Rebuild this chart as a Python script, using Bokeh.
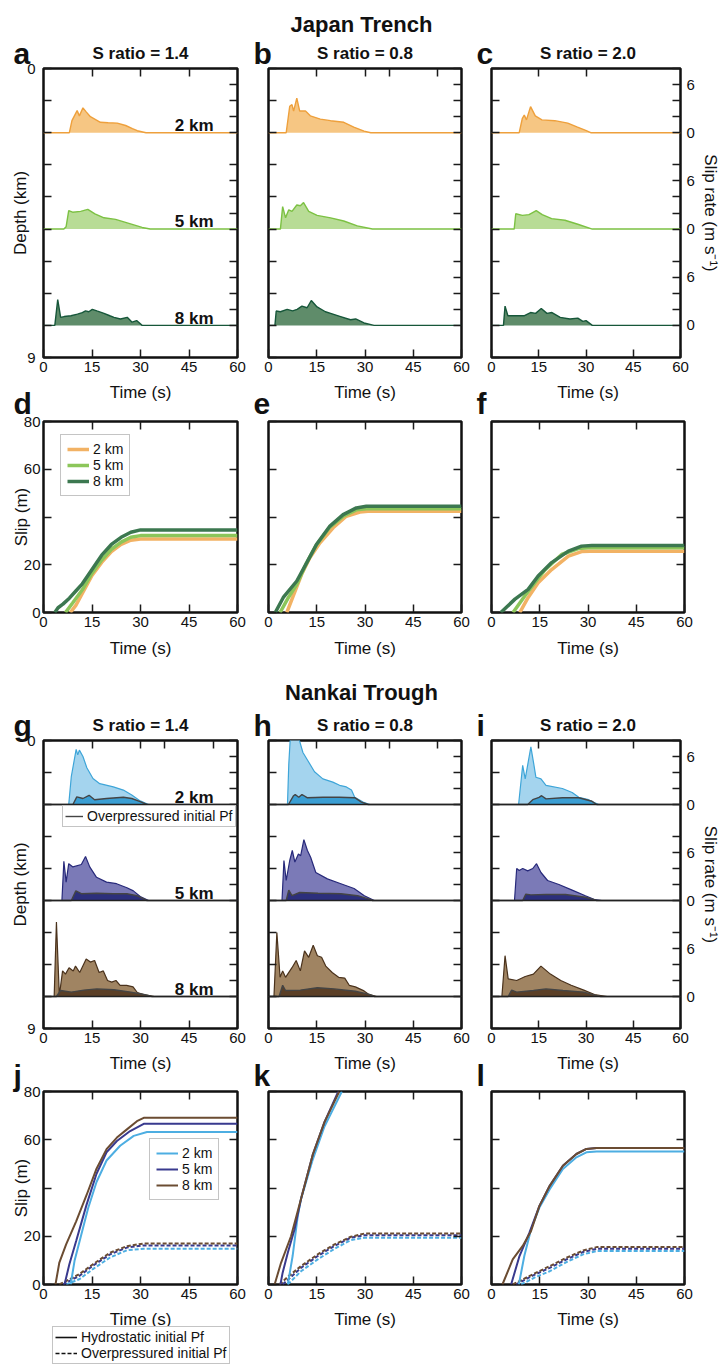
import numpy as np
from bokeh.plotting import figure
from bokeh.models import Range1d, FixedTicker, LinearAxis, Legend, LegendItem, Span
from bokeh.layouts import column, row
from bokeh.core.properties import value
from bokeh.embed import file_html
from bokeh.resources import INLINE

FONT = "Liberation Sans"

# ---------------------------------------------------------------- data
TIME_TICKS = [0, 15, 30, 45, 60]
DEPTHS = [2, 5, 8]
DEPTH_LABELS = ["2 km", "5 km", "8 km"]
RATE_TICKS = [0, 2, 4, 6, 8]
RATE_LABELS = {0: "0", 6: "6"}
SLIP_TICKS = [0, 20, 40, 60, 80]
SLIP_LABELS = {0: "0", 20: "20", 60: "60", 80: "80"}
S_RATIOS = ["S ratio = 1.4", "S ratio = 0.8", "S ratio = 2.0"]
REGIONS = ["Japan Trench", "Nankai Trough"]
PF_LABELS = ["Hydrostatic initial Pf", "Overpressured initial Pf"]

# Japan Trench slip rate (m/s) vs time (s)
a2_t = [0, 8.0, 8.8, 10.4, 11.1, 12.2, 13.2, 14.5, 17.6, 20.0, 22.8, 25.4, 27.5, 29.0, 31.7, 60]
a2_v = [0, 0, 1.5, 2.75, 2.1, 3.1, 2.6, 2.0, 1.3, 1.25, 1.2, 0.9, 0.5, 0.25, 0, 0]
a5_t = [0, 6.3, 7.0, 7.8, 9.0, 11.5, 13.7, 15.9, 18.7, 22.3, 26.4, 30.5, 33.0, 60]
a5_v = [0, 0, 0.3, 2.3, 2.1, 2.2, 2.45, 1.9, 1.4, 1.2, 0.7, 0.2, 0, 0]
a8_t = [0, 3.5, 4.4, 5.3, 6.4, 8.5, 10.5, 12.0, 13.0, 14.0, 15.1, 16.5, 18.7, 20.5, 21.8, 23.8, 25.9, 27.4, 28.8, 30.5, 60]
a8_v = [0, 0, 3.2, 1.0, 1.1, 1.2, 1.4, 1.6, 1.8, 1.7, 2.0, 1.8, 1.5, 1.2, 1.0, 0.8, 1.0, 0.4, 0.6, 0, 0]

b2_t = [0, 5.5, 6.6, 7.3, 7.8, 8.8, 9.7, 11.5, 13.0, 16.1, 19.3, 23.4, 26.5, 29.7, 31.8, 60]
b2_v = [0, 0, 3.3, 3.5, 2.7, 4.3, 2.7, 2.7, 2.1, 1.7, 1.5, 1.3, 0.7, 0.2, 0, 0]
b5_t = [0, 3.7, 4.4, 5.3, 6.3, 7.3, 8.8, 9.9, 10.9, 12.5, 15.1, 19.3, 23.4, 27.6, 32.3, 60]
b5_v = [0, 0, 2.8, 1.4, 2.4, 2.2, 3.0, 2.9, 3.3, 2.2, 1.7, 1.4, 1.0, 0.4, 0, 0]
b8_t = [0, 2.0, 2.4, 3.7, 5.8, 7.5, 8.9, 10.4, 12.0, 13.3, 15.1, 17.7, 19.3, 22.4, 25.5, 27.1, 29.7, 32.8, 60]
b8_v = [0, 0, 1.8, 1.7, 2.0, 1.8, 2.0, 2.4, 2.2, 3.1, 2.3, 1.7, 1.5, 1.1, 0.7, 0.8, 0.3, 0, 0]

c2_t = [0, 8.8, 9.8, 10.4, 11.1, 12.4, 13.9, 16.0, 20.1, 24.2, 27.3, 29.9, 31.5, 60]
c2_v = [0, 0, 1.8, 2.2, 1.6, 3.25, 2.1, 1.6, 1.5, 1.2, 0.7, 0.3, 0, 0]
c5_t = [0, 7.2, 7.7, 9.8, 11.9, 14.2, 16.1, 19.1, 23.3, 27.4, 32.0, 60]
c5_v = [0, 0, 1.9, 1.7, 1.8, 2.3, 1.8, 1.3, 1.1, 0.6, 0, 0]
c8_t = [0, 3.8, 4.3, 5.2, 7.7, 10.3, 12.4, 14.0, 15.8, 17.6, 19.2, 21.8, 24.9, 27.4, 29.0, 30.0, 32.0, 60]
c8_v = [0, 0, 2.4, 1.2, 1.2, 1.2, 1.6, 1.5, 2.1, 1.5, 1.6, 1.0, 0.8, 0.9, 0.5, 0.6, 0, 0]

# Nankai Trough slip rate, hydrostatic and overpressured (o) initial Pf
g2_t = [0, 7.8, 8.6, 10.1, 10.6, 11.1, 12.2, 13.4, 15.3, 17.4, 21.6, 24.7, 27.3, 29.9, 32.5, 60]
g2_v = [0, 0, 3.5, 6.9, 6.2, 6.8, 6.0, 4.6, 3.25, 2.6, 2.2, 1.8, 1.2, 0.45, 0, 0]
g2o_t = [0, 9.1, 10.3, 12.2, 14.1, 15.8, 19.5, 24.7, 27.3, 29.9, 32.0, 60]
g2o_v = [0, 0, 0.95, 0.75, 1.15, 0.6, 0.75, 0.9, 0.75, 0.35, 0, 0]
g5_t = [0, 5.7, 6.3, 7.0, 7.8, 9.1, 11.7, 13.0, 14.3, 16.4, 19.5, 22.6, 25.8, 27.8, 29.9, 32.5, 60]
g5_v = [0, 0, 4.9, 2.3, 4.6, 4.2, 4.5, 5.5, 4.2, 2.9, 2.3, 2.1, 1.6, 1.2, 0.5, 0, 0]
g5o_t = [0, 8.6, 10.0, 11.7, 16.4, 21.6, 25.8, 28.9, 31.5, 32.0, 60]
g5o_v = [0, 0, 1.2, 0.85, 0.9, 0.85, 0.85, 0.6, 0.1, 0, 0]
g8_t = [0, 3.3, 4.0, 4.9, 5.9, 6.8, 7.9, 9.2, 9.9, 11.2, 13.2, 14.5, 15.8, 17.2, 18.5, 19.8, 21.1, 22.4, 23.7, 25.7, 27.7, 29.0, 31.0, 34.3, 60]
g8_v = [0, 0, 9.3, 0.1, 3.2, 2.8, 3.6, 3.2, 3.8, 3.0, 4.7, 4.3, 4.5, 3.0, 3.2, 2.0, 1.8, 2.0, 1.4, 1.4, 1.2, 0.5, 0.25, 0, 0]
g8o_t = [0, 4.0, 5.3, 8.6, 12.5, 16.5, 21.8, 27.0, 31.0, 33.6, 60]
g8o_v = [0, 0, 0.75, 0.55, 0.8, 0.95, 0.85, 0.55, 0.25, 0, 0]

h2_t = [0, 5.9, 6.3, 6.8, 7.5, 8.5, 9.7, 10.7, 12.2, 14.3, 16.9, 20.0, 22.1, 24.2, 25.8, 26.8, 29.4, 31.5, 60]
h2_v = [0, 0, 5.0, 8.5, 10.5, 9.5, 7.9, 6.5, 5.5, 4.1, 3.2, 2.8, 2.4, 2.2, 1.8, 0.9, 0.3, 0, 0]
h2o_t = [0, 6.2, 7.8, 8.3, 9.4, 10.4, 12.0, 17.0, 22.0, 26.8, 28.9, 31.0, 60]
h2o_v = [0, 0, 1.1, 1.25, 0.9, 1.25, 0.85, 0.9, 0.9, 0.85, 0.3, 0, 0]
h5_t = [0, 4.2, 4.8, 5.5, 6.6, 7.4, 8.2, 9.3, 10.0, 11.0, 12.1, 13.1, 14.7, 18.3, 22.5, 26.6, 29.8, 32.9, 60]
h5_v = [0, 0, 5.0, 2.5, 5.0, 6.25, 4.8, 5.8, 5.6, 7.6, 6.25, 5.4, 3.5, 2.7, 2.1, 1.5, 0.6, 0, 0]
h5o_t = [0, 5.5, 6.3, 7.3, 9.7, 15.4, 22.5, 27.7, 31.8, 32.3, 60]
h5o_v = [0, 0, 1.3, 0.6, 1.0, 0.9, 0.85, 0.6, 0.1, 0, 0]
h8_t = [0, 1.7, 2.6, 3.6, 4.4, 5.3, 7.3, 8.6, 9.9, 11.2, 12.5, 13.9, 15.2, 16.5, 17.8, 19.8, 21.8, 23.7, 25.1, 27.0, 29.7, 31.0, 33.6, 60]
h8_v = [0, 0, 8.0, 2.4, 3.2, 2.4, 3.6, 4.5, 3.2, 5.7, 4.9, 6.4, 5.1, 4.9, 3.8, 3.0, 2.4, 2.3, 1.4, 1.2, 0.7, 0.3, 0, 0]
h8o_t = [0, 3.3, 4.4, 5.3, 9.9, 15.2, 20.4, 27.0, 31.0, 33.0, 60]
h8o_v = [0, 0, 1.4, 0.75, 0.8, 1.1, 0.95, 0.65, 0.3, 0, 0]

i2_t = [0, 8.6, 9.9, 10.7, 12.5, 13.4, 14.1, 15.7, 17.3, 22.5, 25.6, 27.7, 30.8, 34.0, 60]
i2_v = [0, 0, 4.9, 3.2, 7.2, 5.1, 3.4, 3.2, 2.4, 2.0, 1.5, 0.9, 0.6, 0, 0]
i2o_t = [0, 11.5, 13.1, 15.1, 15.9, 17.3, 22.5, 27.7, 31.9, 33.4, 60]
i2o_v = [0, 0, 0.6, 0.9, 1.1, 0.7, 0.85, 0.85, 0.4, 0, 0]
i5_t = [0, 7.3, 8.0, 8.8, 9.9, 11.5, 13.1, 14.3, 15.7, 17.8, 21.4, 25.6, 29.8, 32.9, 35.0, 60]
i5_v = [0, 0, 4.0, 3.75, 4.0, 3.7, 4.0, 4.6, 3.5, 2.5, 2.0, 1.3, 0.6, 0.1, 0, 0]
i5o_t = [0, 9.9, 10.9, 12.5, 17.3, 23.5, 29.8, 32.9, 33.4, 60]
i5o_v = [0, 0, 0.8, 0.7, 0.75, 0.75, 0.4, 0.08, 0, 0]
i8_t = [0, 3.3, 4.3, 5.3, 8.0, 10.7, 13.3, 15.7, 18.7, 22.0, 25.3, 29.3, 32.7, 36.7, 60]
i8_v = [0, 0, 5.1, 2.2, 2.0, 2.5, 2.8, 3.8, 2.8, 2.0, 1.4, 0.8, 0.25, 0, 0]
i8o_t = [0, 5.3, 6.4, 8.0, 13.3, 17.3, 22.7, 29.3, 33.3, 34.7, 60]
i8o_v = [0, 0, 0.8, 0.55, 0.75, 0.95, 0.75, 0.55, 0.1, 0, 0]

# Japan Trench cumulative slip (m)
d2_t = [8.3, 10, 12, 15, 18, 21, 24, 27, 30, 60]
d2_s = [0, 3, 8, 15.5, 21, 25.5, 28.5, 30.3, 30.8, 30.8]
d5_t = [6.8, 9, 12, 15, 18, 21, 24, 27, 30, 60]
d5_s = [0, 4, 9.5, 16.5, 22, 26.5, 29.5, 31.5, 32.2, 32.2]
d8_t = [3.5, 4.5, 6, 8, 10, 12, 15, 18, 21, 24, 27, 30, 60]
d8_s = [0, 2, 3.5, 6, 9, 12, 18, 24, 28.5, 31.5, 33.6, 34.6, 34.6]
e2_t = [5.7, 7.7, 10.3, 12.9, 16.0, 20.1, 24.2, 28.4, 30.9, 60]
e2_s = [0, 7, 16, 23, 29.2, 35.5, 40.3, 42.1, 42.4, 42.4]
e5_t = [3.6, 6.2, 8.8, 11.9, 14.9, 19.1, 23.2, 27.3, 30.4, 60]
e5_s = [0, 6.3, 11.8, 20.9, 28.3, 35.8, 40.3, 43.0, 43.5, 43.5]
e8_t = [2.1, 4.6, 8.8, 11.9, 14.9, 19.1, 23.2, 27.3, 30.4, 60]
e8_s = [0, 6.3, 13.2, 20.9, 28.5, 36.2, 41.0, 43.8, 44.5, 44.5]
f2_t = [8.8, 11.4, 14.5, 18.7, 23.9, 28.0, 30.6, 60]
f2_s = [0, 6.3, 12.5, 18.0, 23.6, 25.5, 25.7, 25.7]
f5_t = [6.7, 10.4, 13.5, 16.6, 21.8, 27.0, 30.0, 60]
f5_s = [0, 7.0, 12.5, 17.8, 24.3, 26.8, 27.1, 27.1]
f8_t = [2.9, 7.3, 11.4, 14.5, 18.7, 23.9, 28.0, 31.2, 60]
f8_s = [0, 5.6, 9.7, 15.3, 20.9, 25.7, 27.8, 28.1, 28.1]

# Nankai Trough cumulative slip (m), hydrostatic (h) and overpressured (o)
j2h_t = [8.4, 9.6, 11.7, 13.8, 16.4, 19.5, 23.7, 27.9, 32.0, 60]
j2h_s = [0, 9.8, 20.7, 31.6, 42.5, 51.4, 57.5, 61.6, 63.2, 63.2]
j5h_t = [6.5, 8.0, 10.1, 13.3, 16.4, 19.5, 22.7, 26.8, 31.0, 60]
j5h_s = [0, 8.4, 18.0, 33.0, 45.9, 54.8, 59.5, 63.6, 66.6, 66.6]
j8h_t = [3.7, 4.9, 7.0, 10.1, 13.3, 16.4, 19.5, 22.7, 25.8, 28.9, 31.0, 60]
j8h_s = [0, 9.1, 16.6, 26.2, 37.0, 48.0, 56.1, 60.9, 64.3, 67.7, 69.1, 69.1]
j2o_t = [7.0, 11.2, 15.3, 20.6, 25.8, 31.0, 60]
j2o_s = [0, 2.3, 6.4, 11.2, 14.2, 14.85, 14.85]
j5o_t = [6.0, 11.2, 15.3, 20.6, 25.8, 31.0, 60]
j5o_s = [0, 3.7, 7.8, 12.5, 15.3, 16.2, 16.2]
j8o_t = [4.9, 7.0, 11.2, 15.3, 20.6, 25.8, 31.0, 60]
j8o_s = [0, 1.4, 4.4, 8.4, 13.2, 15.9, 17.0, 17.0]

k2h_t = [6.0, 7.5, 9.1, 10.1, 13.8, 17.4, 22.8]
k2h_s = [0, 11.8, 28.4, 35.4, 52.0, 65.5, 80.0]
k5h_t = [3.7, 4.4, 6.0, 8.1, 10.1, 13.8, 17.4, 21.7]
k5h_s = [0, 4.9, 13.2, 22.9, 35.4, 54.0, 67.3, 80.0]
k8h_t = [1.9, 3.9, 7.0, 10.1, 13.8, 17.4, 22.0]
k8h_s = [0, 9.0, 20.0, 35.4, 54.0, 67.3, 80.0]
k2o_t = [6.0, 10.1, 15.3, 20.5, 25.6, 29.8, 60]
k2o_s = [0, 5.5, 10.4, 14.8, 18.4, 19.4, 19.4]
k5o_t = [4.4, 10.1, 15.3, 20.5, 25.6, 29.8, 60]
k5o_s = [0, 6.9, 11.8, 16.0, 19.4, 20.4, 20.4]
k8o_t = [3.4, 6.0, 10.1, 15.3, 20.5, 25.6, 29.8, 60]
k8o_s = [0, 3.2, 7.6, 12.5, 16.6, 19.8, 21.1, 21.1]

l2h_t = [8.5, 10.2, 12.3, 14.9, 18.1, 22.2, 26.4, 29.5, 32.7, 60]
l2h_s = [0, 11.8, 22.9, 31.9, 39.5, 47.9, 52.7, 54.8, 55.1, 55.1]
l5h_t = [6.1, 8.7, 11.8, 14.9, 18.1, 22.2, 26.4, 29.5, 32.7, 60]
l5h_s = [0, 11.8, 21.5, 32.6, 40.9, 49.2, 54.1, 56.2, 56.6, 56.6]
l8h_t = [3.4, 6.6, 9.7, 12.3, 14.9, 18.1, 22.2, 26.4, 29.5, 32.7, 60]
l8h_s = [0, 10.4, 16.0, 22.2, 32.6, 40.9, 49.2, 54.1, 56.2, 56.6, 56.6]
l2o_t = [9.2, 13.9, 18.1, 23.3, 28.5, 32.7, 60]
l2o_s = [0, 3.2, 5.5, 9.3, 12.5, 13.9, 13.9]
l5o_t = [7.6, 12.8, 18.1, 23.3, 28.5, 32.7, 60]
l5o_s = [0, 3.7, 6.9, 10.4, 13.5, 14.8, 14.8]
l8o_t = [6.6, 12.8, 18.1, 23.3, 28.5, 32.7, 60]
l8o_s = [0, 4.2, 7.6, 11.1, 14.1, 15.5, 15.5]

# ---------------------------------------------------------------- styles / layout
RATE_PER_KM = 4.0          # m/s of slip rate per km of the depth axis
JT_LINE = {2: "#eea03c", 5: "#7cc143", 8: "#17573a"}
JT_FILL = {2: "#f6c683", 5: "#b8dc96", 8: "#5f8c6a"}
JT_SLIP = {2: "#f2b264", 5: "#8cc65a", 8: "#3c7850"}
NT_LINE = {2: "#3ea5d8", 5: "#27297a", 8: "#4a321c"}
NT_FILL = {2: "#a4d4ee", 5: "#7b7ab7", 8: "#a08462"}
NT_OPFILL = {2: "#3a9ed3", 5: "#2c2f7c", 8: "#5b3f26"}
NT_SLIP = {2: "#4daee2", 5: "#393a8e", 8: "#6b4c32"}
OP_LINE = "#444444"
INK = "#111111"

PAGE_W = 722
COL_W = [249, 225, 248]
COL_L = [43, 19, 17]
COL_R = [12, 13, 38]
COL_CX = [140, 364.5, 587.5]      # frame centres, page pixels
LETTER_PX = [13, 253, 476]        # panel-letter left edges, page pixels
EXT = 14                          # how far a text band reaches over its neighbours


def style_axis(ax, ticks, labels):
    ax.ticker = FixedTicker(ticks=ticks)
    ax.minor_tick_line_color = None
    ax.major_tick_in = 8
    ax.major_tick_out = 0
    ax.major_tick_line_width = 1.5
    ax.major_tick_line_color = "#1a1a1a"
    ax.axis_line_color = None
    ax.major_label_text_font = FONT
    ax.major_label_text_color = INK
    ax.axis_label_text_font = FONT
    ax.axis_label_text_font_style = "normal"
    ax.axis_label_text_font_size = "17px"
    ax.axis_label_text_color = INK
    if labels is None:
        ax.major_label_text_font_size = "0px"
        ax.major_label_standoff = 0
        ax.major_label_overrides = {t: "" for t in ticks}
    else:
        ax.major_label_text_font_size = "15px"
        ax.major_label_overrides = {t: labels.get(t, "") for t in ticks}


def base_fig(col, height, btop, bbot, yr):
    p = figure(width=COL_W[col], height=height, x_range=Range1d(0, 60), y_range=yr,
               output_backend="svg", toolbar_location=None, title=None,
               min_border_left=COL_L[col], min_border_right=COL_R[col],
               min_border_top=btop, min_border_bottom=bbot)
    p.grid.visible = False
    p.outline_line_color = "#111111"
    p.outline_line_width = 2.5
    p.background_fill_color = "white"
    p.border_fill_color = "white"
    p.border_fill_alpha = 0.0
    xa = p.xaxis[0]
    style_axis(xa, TIME_TICKS, {t: str(t) for t in TIME_TICKS})
    xa.major_label_standoff = 4
    return p


def rate_fig(col, height, btop, bbot, top_ticks, hyd, op=None, nankai=False):
    p = base_fig(col, height, btop, bbot, Range1d(9, 0))
    p.extra_y_ranges = {"r%d" % d: Range1d((d - 9) * RATE_PER_KM, d * RATE_PER_KM) for d in DEPTHS}
    op_renderer = None
    for d in DEPTHS:
        t, v = hyd[d]
        rn = "r%d" % d
        if nankai:
            p.varea(x=t, y1=0, y2=v, y_range_name=rn, fill_color=NT_FILL[d])
            p.line(t, v, y_range_name=rn, line_color=NT_LINE[d], line_width=1.2)
            to, vo = op[d]
            p.varea(x=to, y1=0, y2=vo, y_range_name=rn, fill_color=NT_OPFILL[d])
            r = p.line(to, vo, y_range_name=rn, line_color=OP_LINE, line_width=1.4)
            if op_renderer is None:
                op_renderer = r
            p.add_layout(Span(location=d, dimension="width", line_color="#222222", line_width=1.5))
        else:
            p.varea(x=t, y1=0, y2=v, y_range_name=rn, fill_color=JT_FILL[d])
            p.line(t, v, y_range_name=rn, line_color=JT_LINE[d], line_width=1.4)
    if col == 0:
        p.text(x=[52.6] * 3, y=[d - 0.22 for d in DEPTHS], text=DEPTH_LABELS,
               text_font=value(FONT), text_font_style="bold", text_font_size="17px",
               text_align="right", text_baseline="alphabetic", text_color=INK)
    ya = p.yaxis[0]
    style_axis(ya, list(range(10)), {0: "0", 9: "9"} if col == 0 else None)
    if col == 0:
        ya.axis_label = "Depth (km)"
        ya.major_label_standoff = 8
        ya.axis_label_standoff = -6
    top = LinearAxis()
    style_axis(top, top_ticks, None)
    p.add_layout(top, "above")
    right_pos, right_lab = [], {}
    for d in DEPTHS:
        for r in RATE_TICKS:
            pos = d - r / RATE_PER_KM
            right_pos.append(pos)
            if r in RATE_LABELS:
                right_lab[pos] = RATE_LABELS[r]
    right = LinearAxis()
    style_axis(right, right_pos, right_lab if col == 2 else None)
    if col == 2:
        right.axis_label = "Slip rate (m s\u207b\u00b9)"
        right.major_label_standoff = 6
        right.axis_label_standoff = 3
    p.add_layout(right, "right")
    return p, op_renderer


def slip_fig(col, height, btop, bbot, series):
    p = base_fig(col, height, btop, bbot, Range1d(0, 80))
    rends = []
    for t, s, color, width, dash in series:
        rends.append(p.line(t, s, line_color=color, line_width=width, line_dash=dash))
    ya = p.yaxis[0]
    style_axis(ya, SLIP_TICKS, SLIP_LABELS if col == 0 else None)
    if col == 0:
        ya.axis_label = "Slip (m)"
        ya.major_label_standoff = 3
        ya.axis_label_standoff = -10
    top = LinearAxis()
    style_axis(top, [15, 30, 45], None)
    p.add_layout(top, "above")
    right = LinearAxis()
    style_axis(right, [20, 40, 60], None)
    p.add_layout(right, "right")
    return p, rends


def legend(items, loc, pad, glyph_w, label_h):
    return Legend(items=items, location=loc, label_text_font=FONT, label_text_font_size="14px",
                  label_text_color=INK, glyph_width=glyph_w, glyph_height=12, label_height=label_h,
                  label_standoff=4, spacing=0, padding=pad, margin=0,
                  border_line_color="#8a8a8a", border_line_width=1.5,
                  background_fill_color="white", background_fill_alpha=1.0)


class Band:
    """Transparent full-width strip for titles, letters and axis titles; it reaches
    over the empty borders of its neighbours so that no text sits near its edge."""

    def __init__(self, top, bottom, ext_top=EXT, ext_bot=EXT):
        self.origin = top - ext_top
        h = bottom - top + ext_top + ext_bot
        p = figure(width=PAGE_W, height=h, x_range=Range1d(0, PAGE_W), y_range=Range1d(h, 0),
                   x_axis_type=None, y_axis_type=None, output_backend="svg",
                   toolbar_location=None, title=None, min_border=0, min_border_left=0,
                   min_border_right=0, min_border_top=0, min_border_bottom=0,
                   margin=(-ext_top, 0, -ext_bot, 0))
        p.outline_line_color = None
        p.grid.visible = False
        p.background_fill_alpha = 0.0
        p.border_fill_alpha = 0.0
        self.p = p

    def text(self, xs, ys, texts, size, bold, align):
        self.p.text(x=xs, y=[y - self.origin for y in ys], text=texts, text_font=value(FONT),
                    text_font_size=size, text_font_style="bold" if bold else "normal",
                    text_align=align, text_baseline="alphabetic", text_color=INK)

    def time_labels(self, y):
        self.text(COL_CX, [y] * 3, ["Time (s)"] * 3, "17px", False, "center")

    def letters(self, y, lets):
        self.text(LETTER_PX, [y] * 3, list(lets), "30px", True, "left")


# ---------------------------------------------------------------- series tables
JT_RATE = [
    {2: (a2_t, a2_v), 5: (a5_t, a5_v), 8: (a8_t, a8_v)},
    {2: (b2_t, b2_v), 5: (b5_t, b5_v), 8: (b8_t, b8_v)},
    {2: (c2_t, c2_v), 5: (c5_t, c5_v), 8: (c8_t, c8_v)},
]
NT_RATE = [
    {2: (g2_t, g2_v), 5: (g5_t, g5_v), 8: (g8_t, g8_v)},
    {2: (h2_t, h2_v), 5: (h5_t, h5_v), 8: (h8_t, h8_v)},
    {2: (i2_t, i2_v), 5: (i5_t, i5_v), 8: (i8_t, i8_v)},
]
NT_RATE_OP = [
    {2: (g2o_t, g2o_v), 5: (g5o_t, g5o_v), 8: (g8o_t, g8o_v)},
    {2: (h2o_t, h2o_v), 5: (h5o_t, h5o_v), 8: (h8o_t, h8o_v)},
    {2: (i2o_t, i2o_v), 5: (i5o_t, i5o_v), 8: (i8o_t, i8o_v)},
]
JT_SLIP_DATA = [
    {2: (d2_t, d2_s), 5: (d5_t, d5_s), 8: (d8_t, d8_s)},
    {2: (e2_t, e2_s), 5: (e5_t, e5_s), 8: (e8_t, e8_s)},
    {2: (f2_t, f2_s), 5: (f5_t, f5_s), 8: (f8_t, f8_s)},
]
NT_SLIP_H = [
    {2: (j2h_t, j2h_s), 5: (j5h_t, j5h_s), 8: (j8h_t, j8h_s)},
    {2: (k2h_t, k2h_s), 5: (k5h_t, k5h_s), 8: (k8h_t, k8h_s)},
    {2: (l2h_t, l2h_s), 5: (l5h_t, l5h_s), 8: (l8h_t, l8h_s)},
]
NT_SLIP_O = [
    {2: (j2o_t, j2o_s), 5: (j5o_t, j5o_s), 8: (j8o_t, j8o_s)},
    {2: (k2o_t, k2o_s), 5: (k5o_t, k5o_s), 8: (k8o_t, k8o_s)},
    {2: (l2o_t, l2o_s), 5: (l5o_t, l5o_s), 8: (l8o_t, l8o_s)},
]
JT_TOP = [[15, 30, 45], [15, 30, 37.5, 52.5], [15, 30]]
NT_TOP = [[15, 30, 37.5, 52.5], [15, 30, 37.5, 52.5], [15, 30, 45]]

# ---------------------------------------------------------------- band 1 (page y 0-55)
b1 = Band(0, 55, ext_top=0)
b1.text([361], [24], [REGIONS[0]], "22px", True, "center")
b1.letters(53, "abc")
b1.text(COL_CX, [53] * 3, S_RATIOS, "17px", True, "center")

row1 = [rate_fig(c, 323, 13, 21, JT_TOP[c], JT_RATE[c])[0] for c in range(3)]      # 55-378

# ---------------------------------------------------------------- band 2 (378-408)
b2 = Band(378, 408)
b2.time_labels(392)
b2.letters(403, "def")

row2 = []                                                                          # 408-633
for c in range(3):
    series = [(JT_SLIP_DATA[c][d][0], JT_SLIP_DATA[c][d][1], JT_SLIP[d], 3.5, "solid") for d in DEPTHS]
    p, rends = slip_fig(c, 225, 13, 21, series)
    if c == 0:
        items = [LegendItem(label=lab, renderers=[r]) for lab, r in zip(DEPTH_LABELS, rends)]
        p.add_layout(legend(items, (17, 116), 6, 22, 16))
    row2.append(p)

# ---------------------------------------------------------------- band 3 (633-732)
b3 = Band(633, 732)
b3.time_labels(648)
b3.text([361], [692], [REGIONS[1]], "22px", True, "center")
b3.letters(725, "ghi")
b3.text(COL_CX, [725] * 3, S_RATIOS, "17px", True, "center")

row3 = []                                                                          # 732-1049
for c in range(3):
    p, op_r = rate_fig(c, 317, 8, 21, NT_TOP[c], NT_RATE[c], NT_RATE_OP[c], nankai=True)
    if c == 0:
        p.add_layout(legend([LegendItem(label=PF_LABELS[1], renderers=[op_r])],
                            (19, 201), 2, 18, 15))
    row3.append(p)

# ---------------------------------------------------------------- band 4 (1049-1082)
b4 = Band(1049, 1082)
b4.time_labels(1063)
b4.letters(1075, "jkl")

row4 = []                                                                          # 1082-1305
for c in range(3):
    series = [(NT_SLIP_O[c][d][0], NT_SLIP_O[c][d][1], NT_SLIP[d], 2.0, "4 2") for d in DEPTHS]
    series += [(NT_SLIP_H[c][d][0], NT_SLIP_H[c][d][1], NT_SLIP[d], 2.0, "solid") for d in DEPTHS]
    p, rends = slip_fig(c, 223, 9, 21, series)
    if c == 0:
        items = [LegendItem(label=lab, renderers=[r]) for lab, r in zip(DEPTH_LABELS, rends[3:])]
        p.add_layout(legend(items, (106, 84), 6, 22, 16))
    row4.append(p)

# ---------------------------------------------------------------- band 5 (1305-1369)
b5 = Band(1305, 1369, ext_bot=0)
b5.time_labels(1319)
proxy = np.array([np.nan])
solid = b5.p.line(x=proxy, y=proxy, line_color="#111111", line_width=1.6)
dashed = b5.p.line(x=proxy, y=proxy, line_color="#111111", line_width=1.6, line_dash="4 2")
b5.p.add_layout(legend([LegendItem(label=PF_LABELS[0], renderers=[solid]),
                        LegendItem(label=PF_LABELS[1], renderers=[dashed])],
                       (52, 5), 2, 22, 15))

layout = column(b1.p, row(*row1), b2.p, row(*row2), b3.p, row(*row3), b4.p, row(*row4), b5.p)
open("out.html", "w").write(file_html(layout, INLINE))
